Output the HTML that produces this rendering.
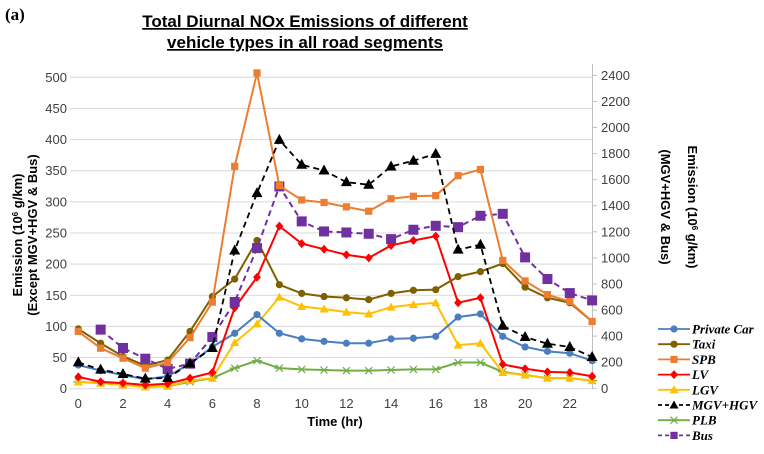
<!DOCTYPE html>
<html><head><meta charset="utf-8"><style>
body{margin:0;background:#fff;}
svg text{font-family:"Liberation Sans",sans-serif;}
svg text.serif{font-family:"Liberation Serif",serif;}
</style></head><body>
<svg id="chart" width="764" height="449" xmlns="http://www.w3.org/2000/svg">
<text class="serif" x="5" y="20" font-weight="bold" font-size="17">(a)</text>
<text x="305" y="27" text-anchor="middle" font-weight="bold" font-size="17" text-decoration="underline">Total Diurnal NOx Emissions of different</text>
<text x="305" y="48" text-anchor="middle" font-weight="bold" font-size="17" text-decoration="underline">vehicle types in all road segments</text>
<g id="grid"></g><g id="ticks"></g><g id="series"></g><g id="legend"></g>
<text transform="translate(22,235) rotate(-90)" text-anchor="middle" font-weight="bold" font-size="13">Emission (10<tspan baseline-shift="super" font-size="8">6</tspan> g/km)</text>
<text transform="translate(37,235) rotate(-90)" text-anchor="middle" font-weight="bold" font-size="13">(Except MGV+HGV &amp; Bus)</text>
<text transform="translate(688,207) rotate(90)" text-anchor="middle" font-weight="bold" font-size="13">Emission (10<tspan baseline-shift="super" font-size="8">6</tspan> g/km)</text>
<text transform="translate(661,207) rotate(90)" text-anchor="middle" font-weight="bold" font-size="13">(MGV+HGV &amp; Bus)</text>
<text x="335" y="426" text-anchor="middle" font-weight="bold" font-size="13">Time (hr)</text>
</svg>
<script>
const hours=[0,1,2,3,4,5,6,7,8,9,10,11,12,13,14,15,16,17,18,19,20,21,22,23];
const privateCar=[38,29,22,15,20,40,67,89,119,89,80,76,73,73,80,81,84,115,120,84,67,60,57,45];
const taxi=[96,73,52,37,46,92,148,176,238,167,153,148,146,143,153,158,159,180,188,201,163,146,138,108];
const spb=[92,65,49,33,42,82,139,357,507,326,303,299,292,285,305,309,310,342,352,206,173,151,140,108];
const lv=[19,11,9,6,8,17,26,130,179,261,233,224,215,210,230,238,245,138,146,39,32,27,26,20];
const lgv=[11,9,6,3,4,13,17,74,104,147,132,128,123,120,131,135,138,70,73,26,22,17,17,13];
const plb=[11,9,7,3,4,11,17,33,45,33,31,30,29,29,30,31,31,42,42,27,22,17,17,13];
const mgvHgv=[199,143,110,74,79,190,309,1057,1497,1905,1714,1670,1581,1561,1701,1745,1798,1063,1101,480,393,342,317,240];
const bus=[null,450,309,227,148,189,393,662,1075,1548,1280,1203,1195,1185,1144,1216,1246,1236,1323,1338,1004,838,730,674];
const leftTicks=[0,50,100,150,200,250,300,350,400,450,500];
const rightTicks=[0,200,400,600,800,1000,1200,1400,1600,1800,2000,2200,2400];
const xTicks=[0,2,4,6,8,10,12,14,16,18,20,22];
const NS="http://www.w3.org/2000/svg";
const xS=h=>78.3+h*22.34, yL=v=>388.7-v*0.6228, yR=v=>388.3-v*0.1304;
function mk(tag,at,parent){const e=document.createElementNS(NS,tag);for(const k in at)e.setAttribute(k,at[k]);document.getElementById(parent).appendChild(e);return e;}
leftTicks.forEach(t=>{
 const l=mk('line',{x1:70,x2:593,y1:yL(t),y2:yL(t),stroke:'#d9d9d9','stroke-width':1},'grid');
 
 
 const tx=mk('text',{x:67,y:yL(t)+4.5,'text-anchor':'end','font-size':13,fill:'#404040'},'ticks');tx.textContent=t;
 
 
});
const ax=mk('line',{x1:592.5,x2:592.5,y1:64,y2:389,stroke:'#bfbfbf'},'grid');


rightTicks.forEach(t=>{
 const tk=mk('line',{x1:592,x2:597,y1:yR(t),y2:yR(t),stroke:'#bfbfbf'},'ticks');
 
 
 const tx=mk('text',{x:601,y:yR(t)+4.5,'font-size':13,fill:'#404040'},'ticks');tx.textContent=t;
 
 
});
xTicks.forEach(t=>{
 const tx=mk('text',{x:xS(t),y:408,'text-anchor':'middle','font-size':13,fill:'#404040'},'ticks');tx.textContent=t;
 
 
});
function marker(type,x,y,c,g){
 let e;
 if(type==='circle')e=mk('circle',{cx:x,cy:y,r:3.6,fill:c},g);
 else if(type==='square')e=mk('rect',{x:x-3.6,y:y-3.6,width:7.2,height:7.2,fill:c},g);
 else if(type==='bigsquare')e=mk('rect',{x:x-5,y:y-5,width:10,height:10,fill:c},g);
 else if(type==='diamond')e=mk('polygon',{points:`${x},${y-4.5} ${x+4},${y} ${x},${y+4.5} ${x-4},${y}`,fill:c},g);
 else if(type==='tri')e=mk('polygon',{points:`${x},${y-4.5} ${x+4.5},${y+3.5} ${x-4.5},${y+3.5}`,fill:c},g);
 else if(type==='bigtri')e=mk('polygon',{points:`${x},${y-6} ${x+5.5},${y+4} ${x-5.5},${y+4}`,fill:c},g);
 else {e=mk('path',{d:`M${x-5},${y}H${x+5}M${x-3.5},${y-3.5}L${x+3.5},${y+3.5}M${x-3.5},${y+3.5}L${x+3.5},${y-3.5}`,stroke:c,'stroke-width':1.2,fill:'none'},g);}
 return e;
}
const defs=[
 {name:'private-car',label:'Private Car',data:privateCar,c:'#4a7ebf',m:'circle',y:yL,dash:null},
 {name:'taxi',label:'Taxi',data:taxi,c:'#7f6000',m:'circle',y:yL,dash:null},
 {name:'spb',label:'SPB',data:spb,c:'#ed7d31',m:'square',y:yL,dash:null},
 {name:'lv',label:'LV',data:lv,c:'#ff0000',m:'diamond',y:yL,dash:null},
 {name:'lgv',label:'LGV',data:lgv,c:'#ffc000',m:'tri',y:yL,dash:null},
 {name:'mgv-hgv',label:'MGV+HGV',data:mgvHgv,c:'#000000',m:'bigtri',y:yR,dash:'6,4'},
 {name:'plb',label:'PLB',data:plb,c:'#70ad47',m:'star',y:yL,dash:null},
 {name:'bus',label:'Bus',data:bus,c:'#7030a0',m:'bigsquare',y:yR,dash:'6,4'}
];
const order=['plb','lgv','private-car','lv','taxi','bus','spb','mgv-hgv'];
order.forEach(n=>{
 const d=defs.find(s=>s.name===n);
 const pts=[];hours.forEach((h,i)=>{if(d.data[i]!=null)pts.push([xS(h),d.y(d.data[i])]);});
 const pl=mk('polyline',{points:pts.map(p=>p.join(',')).join(' '),fill:'none',stroke:d.c,'stroke-width':n==='mgv-hgv'?1.8:2},'series');
 if(d.dash)pl.setAttribute('stroke-dasharray',d.dash);
 
 
 pts.forEach(p=>{const m=marker(d.m,p[0],p[1],d.c,'series');
  
  });
});
defs.forEach((d,i)=>{
 const y=329+i*15.2;
 const l=mk('line',{x1:658,x2:690,y1:y,y2:y,stroke:d.c,'stroke-width':1.8},'legend');
 if(d.dash)l.setAttribute('stroke-dasharray','4,3');
 
 
 const m=marker(d.m==='bigtri'?'tri':d.m==='bigsquare'?'square':d.m,674,y,d.c,'legend');
 
 
 const t=mk('text',{x:692,y:y+4.5,'font-size':13,'font-style':'italic','font-weight':'bold',class:'serif'},'legend');
 t.textContent=d.label;
 
 
});
</script>
</body></html>
